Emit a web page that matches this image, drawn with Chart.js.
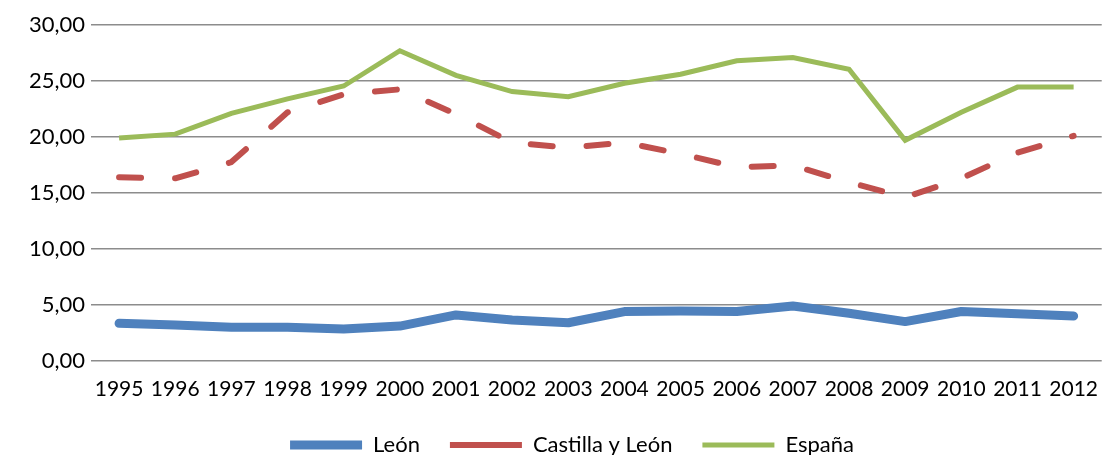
<!DOCTYPE html>
<html>
<head>
<meta charset="utf-8">
<script src="https://cdn.jsdelivr.net/npm/chart.js@4/dist/chart.umd.min.js"></script>
<style>
    html, body { margin: 0; padding: 0; background: #fff; }
    #wrap { width: 1106px; height: 457px; }
</style>
</head>
<body>
<div id="wrap"><canvas id="chart" width="1106" height="457"></canvas></div>
<script>
// Years and series values
const YEARS = ['1995', '1996', '1997', '1998', '1999', '2000', '2001', '2002', '2003',
    '2004', '2005', '2006', '2007', '2008', '2009', '2010', '2011', '2012'];
const LEON = [3.35, 3.2, 3.0, 3.0, 2.85, 3.1, 4.1, 3.65, 3.4, 4.4, 4.45, 4.4, 4.9, 4.25, 3.5, 4.4, 4.2, 4.0];
const CASTILLA = [16.4, 16.3, 17.75, 22.2, 23.8, 24.25, 22.05, 19.5, 19.05, 19.5, 18.5, 17.3, 17.45, 15.95, 14.6, 16.3, 18.6, 20.1];
const ESPANA = [19.9, 20.25, 22.1, 23.4, 24.55, 27.7, 25.5, 24.05, 23.6, 24.8, 25.6, 26.8, 27.1, 26.05, 19.7, 22.2, 24.45, 24.45];
const Y_TICKS = [0, 5, 10, 15, 20, 25, 30];

const FONT = 'Lato, "Liberation Sans", sans-serif';
const GRID = '#8c8c8c';

// nudge the legend a bit right and up, like the original
const legendShift = {
    id: 'legendShift',
    afterLayout(chart) {
        chart.legend.left += 19;
        chart.legend.right += 19;
        chart.legend.top -= 2;
        chart.legend.bottom -= 2;
    }
};

let ctx = document.getElementById('chart').getContext('2d');
let chart = new Chart(ctx, {
    type: 'line',
    data: {
        labels: YEARS,
        datasets: [{
            label: 'León',
            data: LEON,
            borderColor: '#4f81bd',
            borderWidth: 9,
            borderCapStyle: 'round',
            borderJoinStyle: 'round',
            pointRadius: 0,
            tension: 0
        }, {
            label: 'Castilla y León',
            data: CASTILLA,
            borderColor: '#c0504d',
            borderWidth: 6,
            borderDash: [22, 34],
            borderCapStyle: 'round',
            borderJoinStyle: 'round',
            pointRadius: 0,
            tension: 0
        }, {
            label: 'España',
            data: ESPANA,
            borderColor: '#9bbb59',
            borderWidth: 5,
            borderCapStyle: 'butt',
            borderJoinStyle: 'miter',
            pointRadius: 0,
            tension: 0
        }]
    },
    options: {
        responsive: false,
        animation: false,
        layout: { padding: { top: 25, right: 0, left: 0, bottom: 0 } },
        scales: {
            x: {
                offset: true,
                afterFit: scale => { scale.height -= 4; },
                grid: { display: false },
                border: { display: false },
                ticks: { color: '#000', font: { family: FONT, size: 21 }, padding: 8, maxRotation: 0, autoSkip: false }
            },
            y: {
                min: 0,
                max: 30,
                afterFit: scale => { scale.width = 91; },
                afterBuildTicks: scale => { scale.ticks = Y_TICKS.map(v => ({ value: v })); },
                grid: { color: GRID, lineWidth: 1.5, drawTicks: false },
                border: { display: false },
                ticks: {
                    color: '#000',
                    padding: 6,
                    font: { family: FONT, size: 22 },
                    callback: v => v.toFixed(2).replace('.', ',')
                }
            }
        },
        plugins: {
            legend: {
                position: 'bottom',
                maxHeight: 51,
                labels: {
                    usePointStyle: true,
                    pointStyle: 'line',
                    pointStyleWidth: 72,
                    boxWidth: 72,
                    boxHeight: 10,
                    padding: 30,
                    color: '#000',
                    font: { family: FONT, size: 22 }
                }
            },
            tooltip: { enabled: false }
        }
    },
    plugins: [legendShift]
});
</script>
</body>
</html>
